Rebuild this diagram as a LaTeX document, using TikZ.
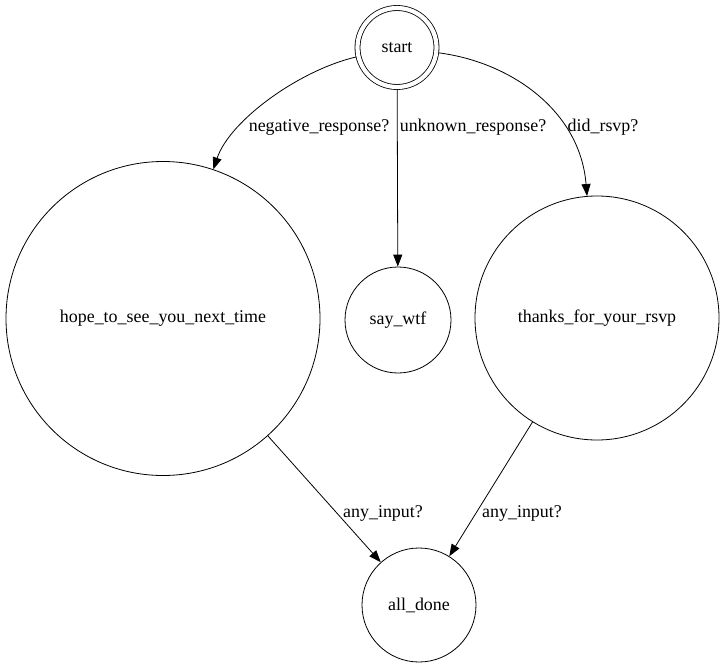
\documentclass[tikz,border=0pt]{standalone}
\usepackage{fontspec}
\setmainfont{Liberation Serif}
\usetikzlibrary{arrows.meta}

\begin{document}
\begin{tikzpicture}[x=1bp, y=-1bp, font=\fontsize{18}{20}\selectfont,
    state/.style={draw, circle, line width=0.8bp, inner sep=0pt},
    trans/.style={-{Triangle[length=12bp, width=9bp]}, line width=0.8bp}]
    \useasboundingbox[fill=white] (0,0) rectangle (725,667);
    % states
    \node[state, double, double distance=4.2bp, outer sep=2.5bp, minimum size=79bp] (start) at (397,47.5) {start};
    \node[state, minimum size=314bp] (hope) at (163,318.5) {hope\_to\_see\_you\_next\_time};
    \node[state, minimum size=106bp] (saywtf) at (398,320) {say\_wtf};
    \node[state, minimum size=244bp] (thanks) at (597,318) {thanks\_for\_your\_rsvp};
    \node[state, minimum size=114bp] (alldone) at (419,605) {all\_done};
    % transitions
    \draw[trans] (start) .. controls (300,70) and (230,120) .. (hope);
    \draw[trans] (start) -- (saywtf);
    \draw[trans] (start) .. controls (510,62) and (580,110) .. (thanks);
    \draw[trans] (hope) -- (alldone);
    \draw[trans] (thanks) -- (alldone);
    % labels
    \node (lblneg) at (319,127) {negative\_response?};
    \node (lblunk) at (473,127) {unknown\_response?};
    \node (lbldid) at (603,127) {did\_rsvp?};
    \node (lblanyl) at (383,513) {any\_input?};
    \node (lblanyr) at (522,513) {any\_input?};
\end{tikzpicture}
\end{document}
